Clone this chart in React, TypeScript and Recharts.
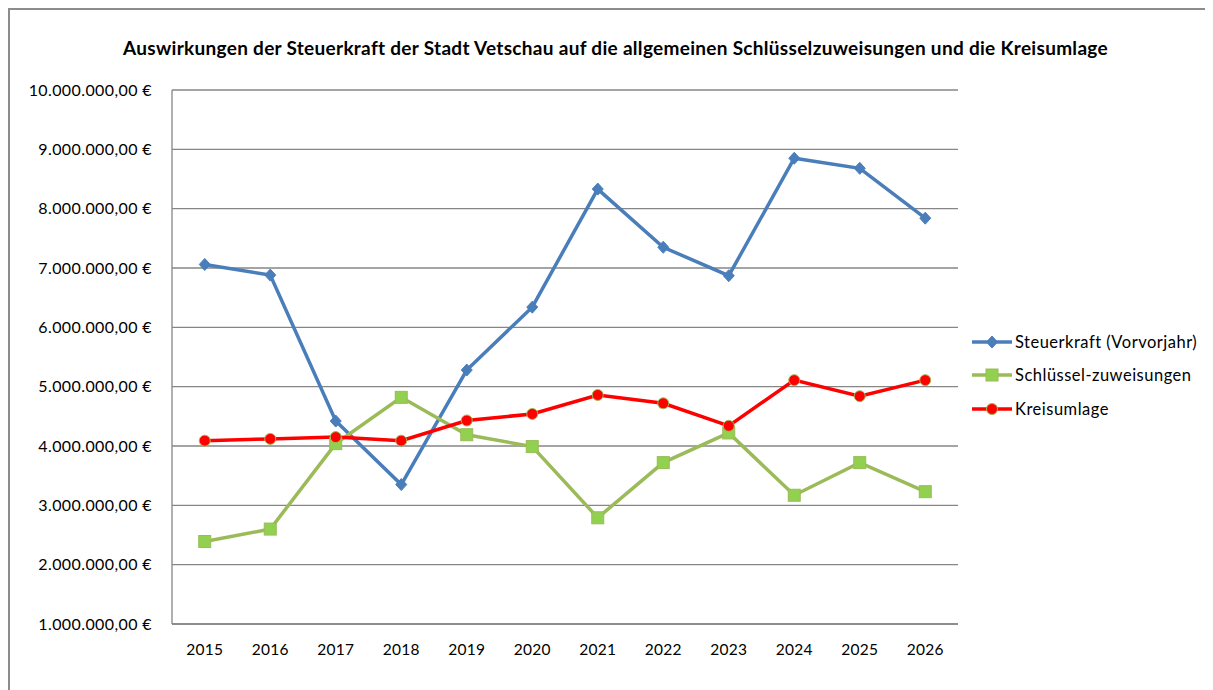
import { LineChart, Line, XAxis, YAxis, CartesianGrid, Legend } from "recharts";

const years = ["2015", "2016", "2017", "2018", "2019", "2020", "2021", "2022", "2023", "2024", "2025", "2026"];
const steuerkraft = [7060000, 6880000, 4420000, 3350000, 5280000, 6340000, 8330000, 7350000, 6870000, 8850000, 8680000, 7840000];
const schluessel = [2390000, 2600000, 4040000, 4820000, 4190000, 3990000, 2790000, 3720000, 4220000, 3170000, 3720000, 3230000];
const kreisumlage = [4090000, 4120000, 4150000, 4090000, 4430000, 4540000, 4860000, 4720000, 4340000, 5110000, 4840000, 5110000];
const yTicks = [1000000, 2000000, 3000000, 4000000, 5000000, 6000000, 7000000, 8000000, 9000000, 10000000];

const data = years.map((year, i) => ({
  year,
  steuerkraft: steuerkraft[i],
  schluessel: schluessel[i],
  kreisumlage: kreisumlage[i],
}));

const BLUE = "#4a7ebb";
const GREEN_LINE = "#9bbb59";
const GREEN_FILL = "#92d050";
const RED = "#ff0000";
const GRID = "#868686";
const FONT = "Lato, 'Liberation Sans', sans-serif";

const formatEuro = (v: number) =>
  Math.round(v).toString().replace(/\B(?=(\d{3})+(?!\d))/g, ".") + ",00 €";

const Diamond = ({ cx, cy }: { cx: number; cy: number }) => (
  <path d={`M${cx},${cy - 6} L${cx + 5.5},${cy} L${cx},${cy + 6} L${cx - 5.5},${cy} Z`} fill={BLUE} stroke={BLUE} strokeWidth={1} />
);
const Square = ({ cx, cy }: { cx: number; cy: number }) => (
  <rect x={cx - 6} y={cy - 6} width={12} height={12} fill={GREEN_FILL} stroke={GREEN_LINE} strokeWidth={1} />
);
const Circle = ({ cx, cy }: { cx: number; cy: number }) => (
  <circle cx={cx} cy={cy} r={5.5} fill={RED} stroke={GREEN_LINE} strokeWidth={1} />
);

const legendItems = [
  { label: "Steuerkraft (Vorvorjahr)", color: BLUE, Marker: Diamond },
  { label: "Schlüssel-zuweisungen", color: GREEN_LINE, Marker: Square },
  { label: "Kreisumlage", color: RED, Marker: Circle },
];

const LegendContent = () => (
  <div style={{ fontFamily: FONT, fontSize: 16.5, letterSpacing: 0.5, color: "#000" }}>
    {legendItems.map(({ label, color, Marker }) => (
      <div key={label} style={{ display: "flex", alignItems: "center", height: 33.5 }}>
        <svg width={43} height={16}>
          <line x1={0} y1={8} x2={40} y2={8} stroke={color} strokeWidth={3.5} />
          <Marker cx={20} cy={8} />
        </svg>
        <span>{label}</span>
      </div>
    ))}
  </div>
);

export default function App() {
  return (
    <div
      style={{
        position: "relative",
        width: 1203,
        height: 680,
        borderTop: "2px solid #8c8c8c",
        borderLeft: "2px solid #8c8c8c",
        background: "#fff",
      }}
    >
      <div
        style={{
          position: "absolute",
          top: 26,
          left: 4,
          width: 1203,
          textAlign: "center",
          fontFamily: FONT,
          fontWeight: 700,
          fontSize: 19,
          letterSpacing: 0.3,
          color: "#000",
        }}
      >
        Auswirkungen der Steuerkraft der Stadt Vetschau auf die allgemeinen Schlüsselzuweisungen und die Kreisumlage
      </div>
      <LineChart width={1203} height={680} data={data} margin={{ top: 80, right: 255, bottom: 36, left: 12 }}>
        <CartesianGrid vertical={false} stroke={GRID} strokeWidth={1.3} />
        <XAxis
          dataKey="year"
          padding={{ left: 32.75, right: 32.75 }}
          tickLine={false}
          tickSize={0}
          tickMargin={20}
          axisLine={{ stroke: GRID, strokeWidth: 1.3 }}
          tick={{ fill: "#000", fontSize: 15.5, fontFamily: FONT, letterSpacing: 0.3 }}
          height={30}
          interval={0}
        />
        <YAxis
          domain={[1000000, 10000000]}
          ticks={yTicks}
          tickFormatter={formatEuro}
          width={150}
          tickLine={false}
          tickSize={0}
          tickMargin={20}
          axisLine={{ stroke: GRID, strokeWidth: 1.3 }}
          tick={{ fill: "#000", fontSize: 16, fontFamily: FONT, letterSpacing: 0.4 }}
          interval={0}
        />
        <Legend
          layout="vertical"
          align="center"
          verticalAlign="middle"
          wrapperStyle={{ left: 962, top: 315, width: 240 }}
          content={LegendContent}
        />
        <Line
          dataKey="steuerkraft"
          name="Steuerkraft (Vorvorjahr)"
          type="linear"
          stroke={BLUE}
          strokeWidth={3.5}
          dot={(p: any) => <Diamond key={`d${p.index}`} cx={p.cx} cy={p.cy} />}
          activeDot={false}
          isAnimationActive={false}
        />
        <Line
          dataKey="schluessel"
          name="Schlüssel-zuweisungen"
          type="linear"
          stroke={GREEN_LINE}
          strokeWidth={3.5}
          dot={(p: any) => <Square key={`s${p.index}`} cx={p.cx} cy={p.cy} />}
          activeDot={false}
          isAnimationActive={false}
        />
        <Line
          dataKey="kreisumlage"
          name="Kreisumlage"
          type="linear"
          stroke={RED}
          strokeWidth={3.5}
          dot={(p: any) => <Circle key={`c${p.index}`} cx={p.cx} cy={p.cy} />}
          activeDot={false}
          isAnimationActive={false}
        />
      </LineChart>
    </div>
  );
}
